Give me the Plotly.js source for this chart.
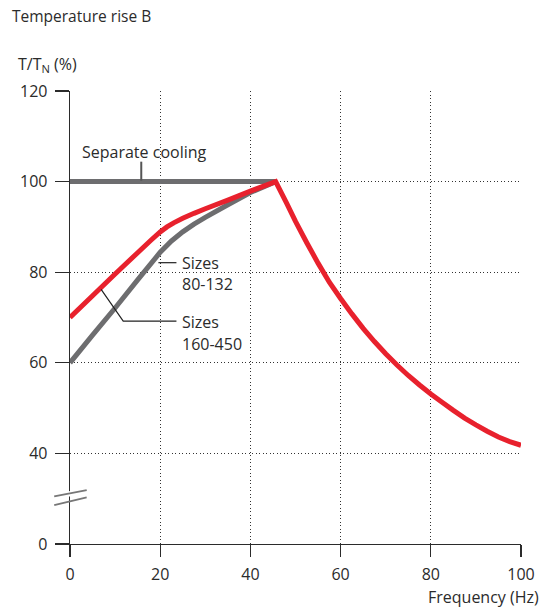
<!DOCTYPE html>
<html>
<head>
<meta charset="utf-8">
<script src="https://cdn.plot.ly/plotly-3.0.1.min.js"></script>
<style>html,body{margin:0;padding:0;background:#fff;}#chart{width:543px;height:611px;}</style>
</head>
<body>
<div id="chart"></div>
<script>
// Data (frequency in Hz, torque in % of T_N; y value 20 on the axis is drawn as the broken "0")
var coolX = [0, 45.6];
var coolY = [100, 100];

var grayX = [0, 5, 10, 15, 20, 22.5, 25, 27.5, 30, 35, 40, 45.6];
var grayY = [60, 66.1, 72.1, 78.3, 84.4, 86.9, 88.9, 90.6, 92.1, 94.9, 97.6, 100];

var redX = [0, 5, 10, 15, 18, 20, 21.5, 23, 25, 27.5, 30, 35, 40, 45.6,
            48, 50, 52.5, 55, 57.5, 60, 62.5, 65, 67.5, 70, 72.5, 75, 77.5, 80, 82.5, 85, 87.5, 90, 92.5, 95, 97.5, 100];
var redY = [70, 74.8, 79.6, 84.3, 87.1, 88.9, 90, 90.9, 91.9, 93, 94, 95.9, 97.9, 100,
            95.3, 91.2, 86.5, 82, 77.8, 74.2, 70.8, 67.6, 64.7, 62, 59.5, 57.2, 55.1, 53.1, 51.3, 49.5, 47.8, 46.3, 44.9, 43.6, 42.6, 41.8];

var xTicks = [0, 20, 40, 60, 80, 100];
var yTickVals = [20, 40, 60, 80, 100, 120];
var yTickText = ["0", "40", "60", "80", "100", "120"];

var RED = "#e8212d";
var GRAY = "#6d6d6f";
var INK = "#2b2b2b";
var FONT = "Open Sans, sans-serif";

var traces = [
  {x: coolX, y: coolY, mode: "lines", line: {color: GRAY, width: 5, simplify: false}, hoverinfo: "skip"},
  {x: grayX, y: grayY, mode: "lines", line: {color: GRAY, width: 5, simplify: false}, hoverinfo: "skip"},
  {x: redX, y: redY, mode: "lines", line: {color: RED, width: 5, simplify: false}, hoverinfo: "skip"}
];

var leader = {color: "#222", width: 1.2};
var shapes = [
  // Separate cooling leader
  {type: "line", xref: "x", yref: "y", x0: 15.8, x1: 15.8, y0: 100.2, y1: 104.4, line: {color: "#555", width: 2}},
  // Sizes 80-132 leader
  {type: "line", xref: "x", yref: "y", x0: 19.6, x1: 23.6, y0: 82.1, y1: 82.1, line: leader},
  // Sizes 160-450 leader
  {type: "path", xref: "x", yref: "y", path: "M 6.9,76.2 L 11.8,69.2 L 23.6,69.2", line: leader},
  // axis break marks
  {type: "line", xref: "paper", yref: "y", x0: -0.035, x1: 0.037, y0: 29.9, y1: 32.4, line: {color: "#ffffff", width: 5}},
  {type: "line", xref: "paper", yref: "y", x0: -0.035, x1: 0.037, y0: 30.5, y1: 31.9, line: {color: "#777", width: 1.8}},
  {type: "line", xref: "paper", yref: "y", x0: -0.035, x1: 0.037, y0: 28.6, y1: 30.3, line: {color: "#777", width: 1.8}}
];

var annFont = {family: FONT, size: 16, color: INK};
var annotations = [
  {xref: "paper", yref: "paper", x: -0.132, y: 1.166, xanchor: "left", yanchor: "middle", text: "Temperature rise B", showarrow: false, font: {family: FONT, size: 15.5, color: INK}},
  {xref: "paper", yref: "paper", x: -0.12, y: 1.058, xanchor: "left", yanchor: "middle", text: "T/T<sub>N</sub> (%)", showarrow: false, font: {family: FONT, size: 16, color: INK}},
  {xref: "paper", yref: "paper", x: 1.045, y: -0.117, xanchor: "right", yanchor: "middle", text: "Frequency (Hz)", showarrow: false, font: annFont},
  {xref: "x", yref: "y", x: 2.2, y: 106.6, xanchor: "left", yanchor: "middle", text: "Separate cooling", showarrow: false, font: annFont},
  {xref: "x", yref: "y", x: 24.3, y: 82.1, xanchor: "left", yanchor: "middle", text: "Sizes", showarrow: false, font: annFont},
  {xref: "x", yref: "y", x: 24.3, y: 77.3, xanchor: "left", yanchor: "middle", text: "80-132", showarrow: false, font: annFont},
  {xref: "x", yref: "y", x: 24.3, y: 69.0, xanchor: "left", yanchor: "middle", text: "Sizes", showarrow: false, font: annFont},
  {xref: "x", yref: "y", x: 24.3, y: 64.2, xanchor: "left", yanchor: "middle", text: "160-450", showarrow: false, font: annFont}
];

var layout = {
  width: 543, height: 611,
  margin: {l: 70, r: 22, t: 91, b: 67},
  paper_bgcolor: "#fff", plot_bgcolor: "#fff",
  showlegend: false,
  font: {family: FONT, size: 16, color: INK},
  xaxis: {
    range: [0, 100], tickvals: xTicks, ticks: "outside", ticklen: 12, tickcolor: INK, tickwidth: 1.3,
    showline: true, linecolor: INK, linewidth: 1.3, zeroline: false,
    showgrid: true, gridcolor: "#333", griddash: "1px,2.5px", gridwidth: 1.2,
    tickfont: {family: FONT, size: 16, color: INK}, ticklabelstandoff: 3
  },
  yaxis: {
    range: [20, 120], tickvals: yTickVals, ticktext: yTickText, ticks: "outside", ticklen: 14, tickcolor: INK, tickwidth: 1.3,
    showline: true, linecolor: INK, linewidth: 1.3, zeroline: false,
    showgrid: true, gridcolor: "#333", griddash: "1px,2.5px", gridwidth: 1.2,
    tickfont: {family: FONT, size: 16, color: INK}, ticklabelstandoff: 4
  },
  shapes: shapes,
  annotations: annotations
};

Plotly.newPlot("chart", traces, layout, {staticPlot: true, displayModeBar: false});
</script>
</body>
</html>
